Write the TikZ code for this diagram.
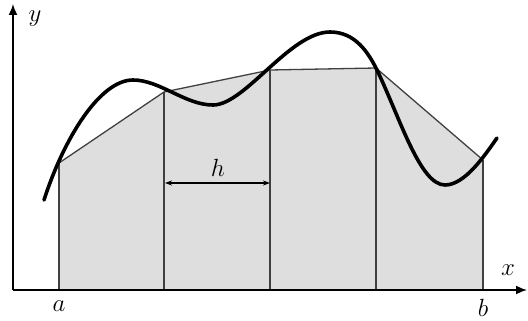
\documentclass[tikz,border=0pt]{standalone}
\usetikzlibrary{arrows.meta}
\begin{document}
\begin{tikzpicture}[x=1pt,y=-1pt,
  lbl/.style={font=\fontsize{27}{30}\selectfont},
  axis/.style={line width=1.6pt,-{Latex[length=11pt,width=9pt]}},
  edge/.style={line width=1.3pt,draw=black!75},
  curve/.style={line width=3.6pt,line cap=round,line join=round}]
\useasboundingbox (0,0) rectangle (528,321);
\coordinate (O) at (13,290);
\coordinate (p0) at (59,163);
\coordinate (p1) at (164,92);
\coordinate (p2) at (270,70);
\coordinate (p3) at (376,68);
\coordinate (p4) at (483,160);
\coordinate (q0) at (59,290);
\coordinate (q1) at (164,290);
\coordinate (q2) at (270,290);
\coordinate (q3) at (376,290);
\coordinate (q4) at (483,290);
\coordinate (xend) at (527,290);
\coordinate (yend) at (13,4);
% fill
\fill[black!13] (q0) -- (p0) -- (p1) -- (p2) -- (p3) -- (p4) -- (q4) -- cycle;
\draw[edge] (p0) -- (p1) -- (p2) -- (p3) -- (p4);
\foreach \i in {0,...,4} \draw[edge] (p\i) -- (q\i);
% curve
\draw[curve] (44,200) .. controls (64,138) and (100,80) .. (133,80)
  .. controls (160,80) and (185,105) .. (213,105)
  .. controls (245,105) and (290,32) .. (330,32)
  .. controls (355,32) and (368,52) .. (377,70)
  .. controls (400,118) and (420,185) .. (445,185)
  .. controls (465,185) and (485,155) .. (497,138);
% axes
\draw[axis] (O) -- (xend);
\draw[axis] (O) -- (yend);
% h arrow
\coordinate (h0) at (165,183);
\coordinate (h1) at (270,183);
\draw[line width=1.1pt,{Stealth[length=7pt,width=5pt]}-{Stealth[length=7pt,width=5pt]}] (h0) -- (h1);
\node[lbl] (hl) at (218,168) {$h$};
\node[lbl] (xl) at (508,270) {$x$};
\node[lbl] (yl) at (35,19) {$y$};
\node[lbl] (al) at (59,306) {$a$};
\node[lbl] (bl) at (483,308) {$b$};
\end{tikzpicture}
\end{document}
